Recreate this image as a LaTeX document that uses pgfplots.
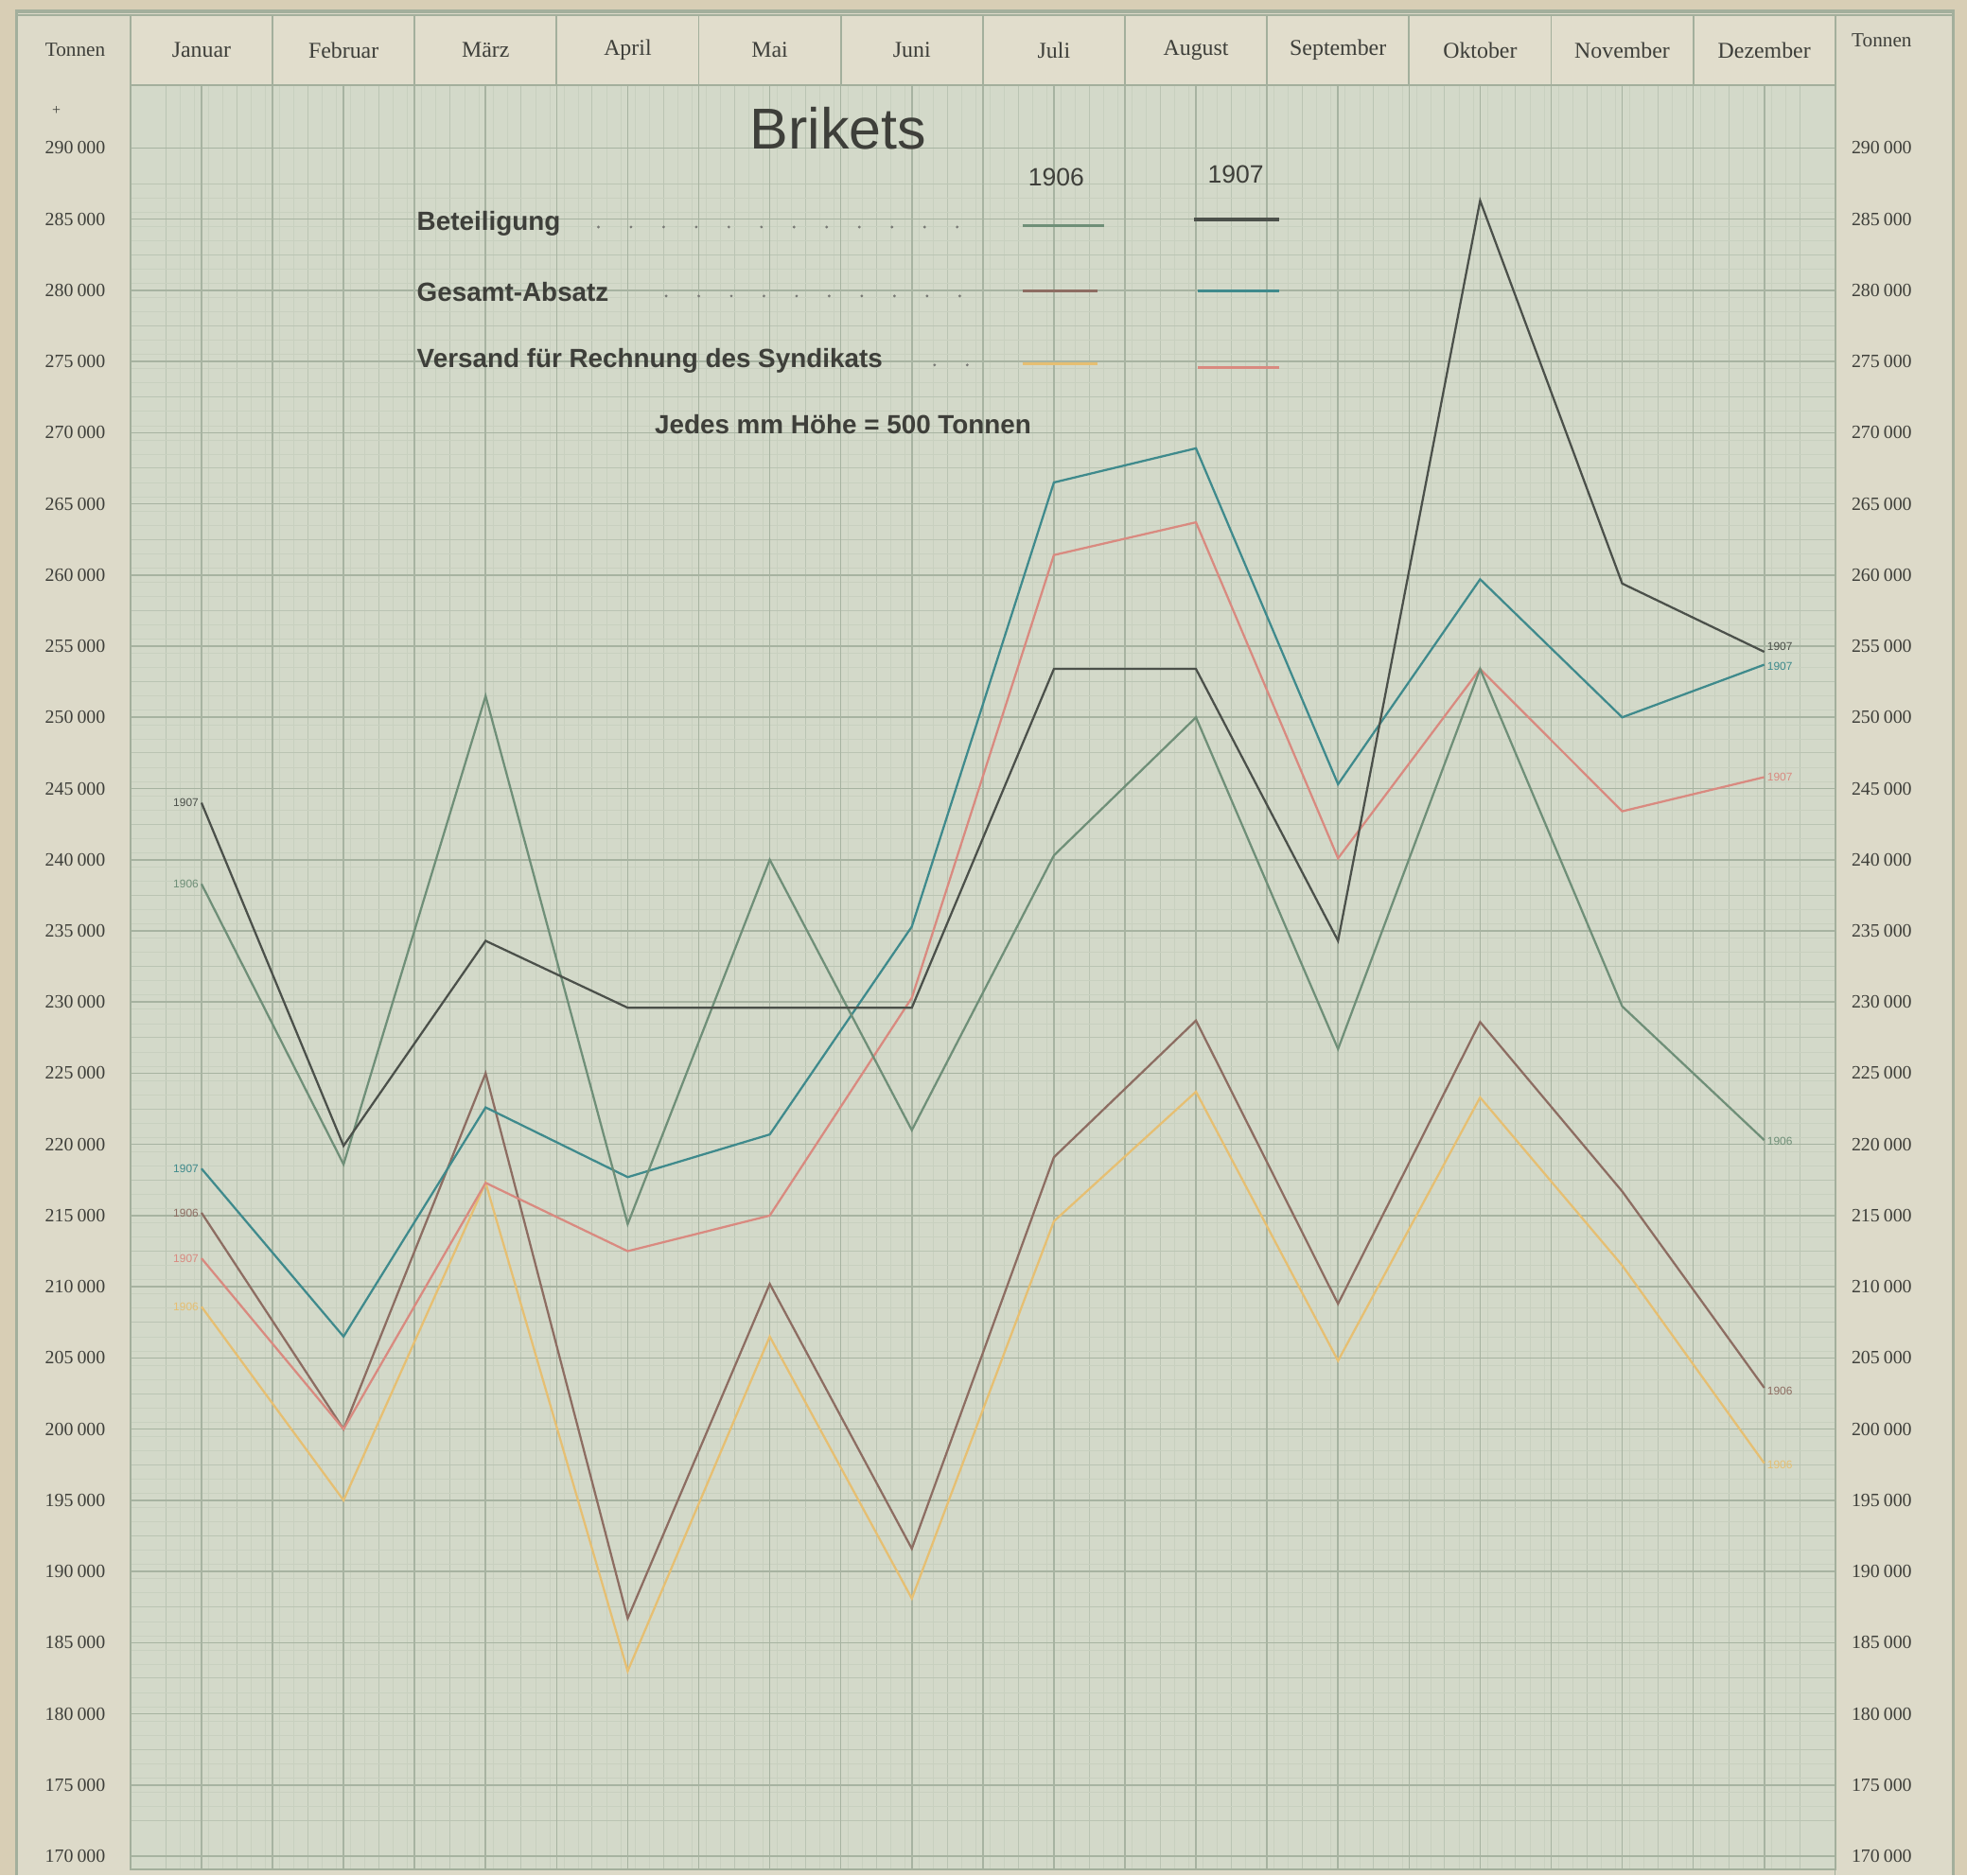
\documentclass[border=0pt]{standalone}
\usepackage{fontspec}
\setmainfont{Liberation Serif}
\newfontfamily\grot{Liberation Sans}
\usepackage{pgfplots}
\usepackage{pgfplotstable}
\pgfplotsset{compat=1.18}

\definecolor{tan}{HTML}{D8CEB5}
\definecolor{colbg}{HTML}{DDDAC9}
\definecolor{headbg}{HTML}{E1DDCC}
\definecolor{paper}{HTML}{D3D9C9}
\definecolor{frame}{HTML}{A3AF9C}
\definecolor{gmajor}{HTML}{A7B3A1}
\definecolor{gmed}{HTML}{BAC4B3}
\definecolor{gminor}{HTML}{C8D0BF}
\definecolor{txt}{HTML}{3E3F3A}
\definecolor{bet06}{HTML}{6F8F78}
\definecolor{bet07}{HTML}{4B504A}
\definecolor{abs06}{HTML}{8D6D62}
\definecolor{abs07}{HTML}{3F8A8C}
\definecolor{ver06}{HTML}{E6BF72}
\definecolor{ver07}{HTML}{D98A80}

\newcommand\T[1]{#1\hspace{0.2em}000}

\pgfplotstableread{
m bet06 bet07 abs06 abs07 ver06 ver07
1  238300 244000 215200 218300 208600 212000
2  218600 219900 200000 206500 195000 200000
3  251500 234300 225000 222600 217300 217300
4  214400 229600 186700 217700 183000 212500
5  240000 229600 210200 220700 206500 215000
6  221000 229600 191600 235300 188100 230300
7  240300 253400 219100 266500 214600 261400
8  250000 253400 228700 268900 223700 263700
9  226700 234300 208800 245300 204800 240100
10 253400 286300 228600 259700 223300 253400
11 229700 259400 216700 250000 211500 243400
12 220300 254600 202900 253700 197600 245800
}\data

\tikzset{px/.style={yshift=747.5pt,x=0.5pt,y=-0.5pt}}
\pgfplotsset{
  base/.style={
    at={(52pt,2.5pt)}, anchor=south west,
    width=679.5pt, height=711pt, scale only axis,
    xmin=0.5, xmax=12.5, ymin=169100, ymax=294400,
    tick style={draw=none},
    scaled y ticks=false,
  },
  ylabs/.style={
    yticklabels={\T{170},\T{175},\T{180},\T{185},\T{190},\T{195},\T{200},\T{205},\T{210},\T{215},\T{220},\T{225},\T{230},\T{235},\T{240},\T{245},\T{250},\T{255},\T{260},\T{265},\T{270},\T{275},\T{280},\T{285},\T{290}},
  },
}

\begin{document}
\begin{tikzpicture}
% backgrounds
\begin{scope}[px]
  \fill[tan] (0,0) rectangle (1568,1495);
  \fill[colbg] (13,9) rectangle (1557,1495);
  \fill[headbg] (104,12) rectangle (1463,68);
  \fill[paper] (104,68) rectangle (1463,1490);
  \draw[frame, line width=1.2pt] (13,1495) -- (13,9) -- (1557,9) -- (1557,1495);
\end{scope}

% fine grid (1 mm) and medium grid (5 mm)
\begin{axis}[base,
  axis line style={draw=none},
  xtick={0.75,1.25,...,12.25}, xticklabels={},
  ytick={172500,177500,...,287500}, yticklabels={},
  minor x tick num=4, minor y tick num=4,
  grid=both,
  major grid style={gmed, line width=0.35pt},
  minor grid style={gminor, line width=0.2pt},
]
\end{axis}

% main axis with 10 mm grid and data
\begin{axis}[base, ylabs,
  axis line style={draw=frame, line width=0.8pt},
  xtick={0.5,1,...,12.5}, xticklabels={},
  ytick={170000,175000,...,290000},
  grid=major,
  major grid style={gmajor, line width=0.6pt},
  yticklabel style={anchor=center, xshift=-22pt, text=txt,
    font=\fontsize{7.5}{8}\selectfont},
  clip=false,
  every axis plot/.append style={line width=0.85pt, line join=miter},
]
\addplot[ver06] table[x=m, y=ver06] {\data};
\addplot[abs06] table[x=m, y=abs06] {\data};
\addplot[ver07] table[x=m, y=ver07] {\data};
\addplot[abs07] table[x=m, y=abs07] {\data};
\addplot[bet06] table[x=m, y=bet06] {\data};
\addplot[bet07] table[x=m, y=bet07] {\data};

\node[anchor=east, inner sep=1pt, text=bet07, font=\grot\fontsize{4.5}{5}\selectfont] at (axis cs:1,244000) {1907};
\node[anchor=east, inner sep=1pt, text=bet06, font=\grot\fontsize{4.5}{5}\selectfont] at (axis cs:1,238300) {1906};
\node[anchor=east, inner sep=1pt, text=abs07, font=\grot\fontsize{4.5}{5}\selectfont] at (axis cs:1,218300) {1907};
\node[anchor=east, inner sep=1pt, text=abs06, font=\grot\fontsize{4.5}{5}\selectfont] at (axis cs:1,215200) {1906};
\node[anchor=east, inner sep=1pt, text=ver07, font=\grot\fontsize{4.5}{5}\selectfont] at (axis cs:1,212000) {1907};
\node[anchor=east, inner sep=1pt, text=ver06, font=\grot\fontsize{4.5}{5}\selectfont] at (axis cs:1,208600) {1906};
\node[anchor=west, inner sep=1pt, text=bet07, font=\grot\fontsize{4.5}{5}\selectfont] at (axis cs:12,255000) {1907};
\node[anchor=west, inner sep=1pt, text=abs07, font=\grot\fontsize{4.5}{5}\selectfont] at (axis cs:12,253600) {1907};
\node[anchor=west, inner sep=1pt, text=ver07, font=\grot\fontsize{4.5}{5}\selectfont] at (axis cs:12,245800) {1907};
\node[anchor=west, inner sep=1pt, text=bet06, font=\grot\fontsize{4.5}{5}\selectfont] at (axis cs:12,220200) {1906};
\node[anchor=west, inner sep=1pt, text=abs06, font=\grot\fontsize{4.5}{5}\selectfont] at (axis cs:12,202700) {1906};
\node[anchor=west, inner sep=1pt, text=ver06, font=\grot\fontsize{4.5}{5}\selectfont] at (axis cs:12,197500) {1906};
\end{axis}

% overlay axis: month names and right labels
\begin{axis}[base, ylabs,
  axis line style={draw=none},
  xtick={1,...,12},
  xticklabels={Januar,Februar,März,April,Mai,Juni,Juli,August,September,Oktober,November,Dezember},
  xticklabel pos=upper,
  xticklabel style={anchor=center, yshift=14pt, text=txt, font=\fontsize{9}{10}\selectfont},
  ytick={170000,175000,...,290000},
  yticklabel pos=right,
  yticklabel style={anchor=center, xshift=18.5pt, text=txt,
    font=\fontsize{7.5}{8}\selectfont},
]
\end{axis}

% header cells and legend
\begin{scope}[px]
  \foreach \k in {0,...,12} {
    \draw[frame, line width=0.7pt] ({104+113.25*\k},12) -- ({104+113.25*\k},68);
  }
  \draw[frame, line width=0.7pt] (13,12) -- (1557,12);
  \draw[frame, line width=0.5pt] (1463,68) -- (1463,1495);
  \node[text=txt, font=\fontsize{8}{9}\selectfont] at (60,40) {Tonnen};
  \node[text=txt, font=\fontsize{8}{9}\selectfont] at (1500,32) {Tonnen};
  \node[text=txt, font=\fontsize{6}{7}\selectfont] at (45,88) {+};

  \node[text=txt, font=\grot\fontsize{23}{25}\selectfont] at (668,102) {Brikets};
  \node[text=txt, font=\grot\fontsize{10}{12}\selectfont] at (842,141) {1906};
  \node[text=txt, font=\grot\fontsize{10}{12}\selectfont] at (985,139) {1907};
  \node[anchor=west, inner sep=0pt, text=txt, font=\grot\bfseries\fontsize{10.5}{12}\selectfont] at (332,178) {Beteiligung};
  \node[anchor=west, inner sep=0pt, text=txt, font=\grot\bfseries\fontsize{10.5}{12}\selectfont] at (332,233) {Gesamt-Absatz};
  \node[anchor=west, inner sep=0pt, text=txt, font=\grot\bfseries\fontsize{10.5}{12}\selectfont] at (332,288) {Versand für Rechnung des Syndikats};
  \node[text=txt, font=\grot\bfseries\fontsize{10.5}{12}\selectfont] at (672,338) {Jedes mm Höhe = 500 Tonnen};
  \foreach \x in {477,503,...,775} \fill[txt!70] (\x,181) circle[radius=0.6pt];
  \foreach \x in {531,557,...,775} \fill[txt!70] (\x,236) circle[radius=0.6pt];
  \foreach \x in {745,771} \fill[txt!70] (\x,291) circle[radius=0.6pt];
  \draw[bet06, line width=1.3pt] (815,180) -- (880,180);
  \draw[bet07, line width=1.3pt] (952,175) -- (1020,175);
  \draw[abs06, line width=1.3pt] (815,232) -- (875,232);
  \draw[abs07, line width=1.3pt] (955,232) -- (1020,232);
  \draw[ver06, line width=1.3pt] (815,290) -- (875,290);
  \draw[ver07, line width=1.3pt] (955,293) -- (1020,293);
\end{scope}
\pgfresetboundingbox
\path[use as bounding box] (0,0) rectangle (784pt,747.5pt);
\end{tikzpicture}
\end{document}
